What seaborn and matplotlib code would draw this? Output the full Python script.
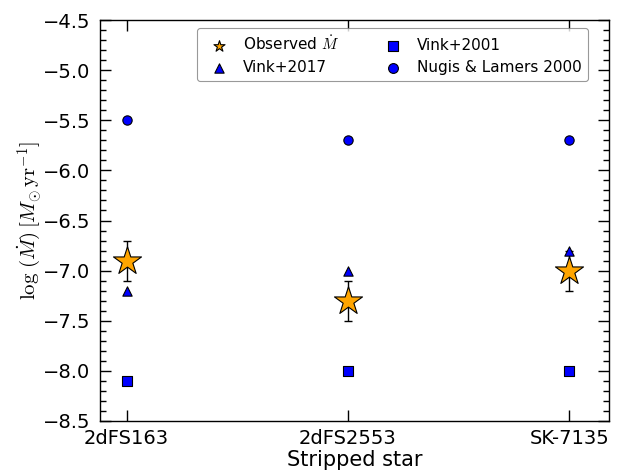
import matplotlib
matplotlib.use("Agg")
import matplotlib.pyplot as plt
import seaborn as sns
import pandas as pd
import numpy as np
from matplotlib.ticker import MultipleLocator

stars = ["2dFS163", "2dFS2553", "SK-7135"]
observed = [-6.9, -7.3, -7.0]
observed_err = [0.2, 0.2, 0.2]
vink2017 = [-7.2, -7.0, -6.8]
vink2001 = [-8.1, -8.0, -8.0]
nugis = [-5.5, -5.7, -5.7]

sns.set_style("ticks")
plt.rcParams['font.family'] = ['DejaVu Sans']
plt.rcParams['mathtext.fontset'] = 'cm'
plt.rcParams['text.color'] = 'black'
plt.rcParams['axes.labelcolor'] = 'black'
plt.rcParams['xtick.color'] = 'black'
plt.rcParams['ytick.color'] = 'black'

fig = plt.figure(figsize=(6.2, 4.7), dpi=100)
ax = fig.add_axes([100/620, 1 - 421/470, 509/620, 401/470])

xpos = np.arange(len(stars))
df = pd.DataFrame({"x": xpos, "obs": observed, "v17": vink2017, "v01": vink2001, "nl": nugis})

ax.errorbar(xpos, observed, yerr=observed_err, fmt="none", ecolor="black", elinewidth=1, capsize=3, capthick=1, zorder=2)
sns.scatterplot(data=df, x="x", y="obs", marker="*", s=450, color="orange", edgecolor="black", linewidth=0.8, ax=ax, label=r"Observed $\dot{M}$", zorder=3)
sns.scatterplot(data=df, x="x", y="v17", marker="^", s=45, color="blue", edgecolor="black", linewidth=0.8, ax=ax, label="Vink+2017", zorder=3)
sns.scatterplot(data=df, x="x", y="v01", marker="s", s=45, color="blue", edgecolor="black", linewidth=0.8, ax=ax, label="Vink+2001", zorder=3)
sns.scatterplot(data=df, x="x", y="nl", marker="o", s=45, color="blue", edgecolor="black", linewidth=0.8, ax=ax, label="Nugis & Lamers 2000", zorder=3)

ax.set_xlim(-0.12, 2.18)
ax.set_ylim(-8.5, -4.5)
ax.set_xticks(xpos)
ax.set_xticklabels(stars)
ax.yaxis.set_major_locator(MultipleLocator(0.5))
ax.yaxis.set_minor_locator(MultipleLocator(0.1))
ax.yaxis.set_major_formatter(matplotlib.ticker.FuncFormatter(lambda v, p: f"\u2212{abs(v):.1f}"))
ax.tick_params(axis="x", which="major", direction="in", length=8, width=1, top=True, bottom=True, labelsize=14, pad=6)
ax.tick_params(axis="y", which="major", direction="in", length=8, width=1, left=True, right=True, labelsize=14, pad=7)
ax.tick_params(axis="y", which="minor", direction="in", length=4, width=1, left=True, right=True)
for s in ax.spines.values():
    s.set_linewidth(1)
    s.set_color("black")

ax.set_xlabel("Stripped star", fontsize=15, labelpad=1)
ax.set_ylabel(r"$\log\,(\dot{M})\,[M_{\odot}\,\mathrm{yr}^{-1}]$", fontsize=15, labelpad=0)

leg = ax.legend(loc="upper right", bbox_to_anchor=((588 - 100) / 509, (421 - 28) / 401), borderaxespad=0,
                ncol=2, fontsize=11, frameon=True, scatterpoints=1,
                columnspacing=2.5, handletextpad=0.6, labelspacing=0.5, fancybox=True, edgecolor="gray")
leg.get_frame().set_linewidth(0.8)
sizes = [70, 45, 50, 50]
for h, sz in zip(leg.legend_handles, sizes):
    h.set_sizes([sz])

fig.savefig("out.png", dpi=100)
